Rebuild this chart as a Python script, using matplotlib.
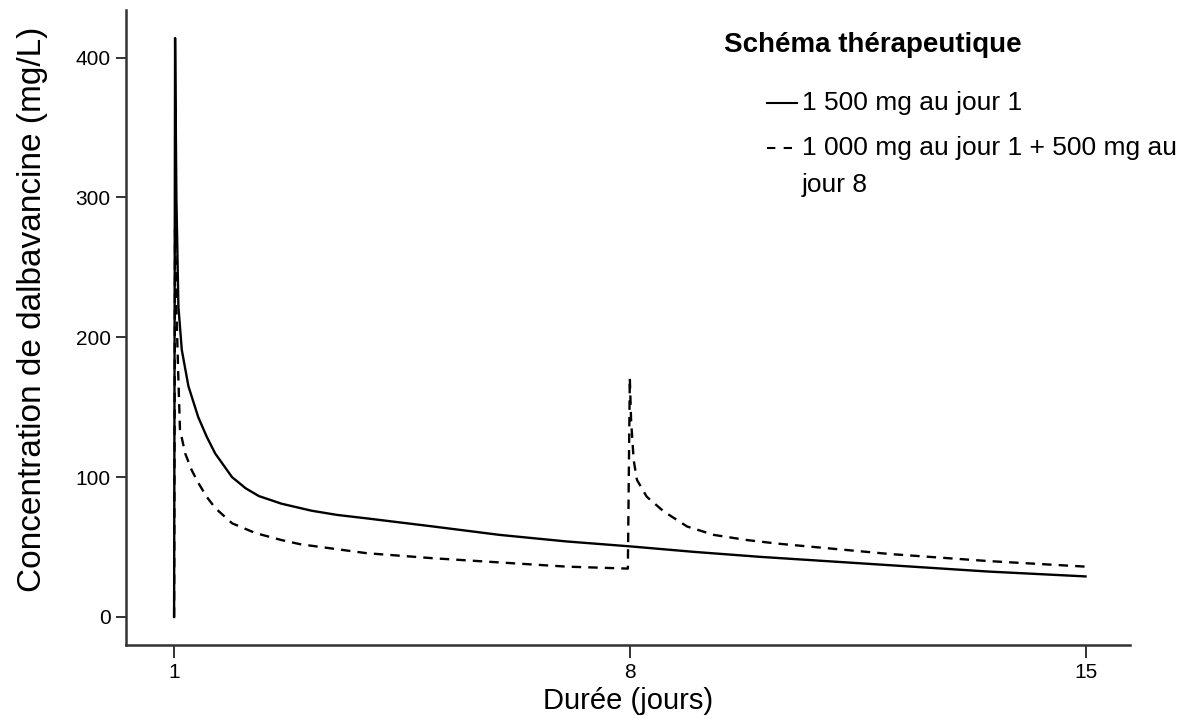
import matplotlib
matplotlib.use('Agg')
import matplotlib.pyplot as plt
from matplotlib.lines import Line2D

plt.rcParams['font.family'] = ['Liberation Sans', 'DejaVu Sans']

# 1 500 mg au jour 1
days_single = [1.0, 1.015, 1.035, 1.066, 1.118, 1.22, 1.37, 1.5, 1.63, 1.89, 2.1, 2.3,
               2.65, 3.11, 3.5, 3.96, 4.98, 6.0, 7.03, 8.0, 9.0, 10.0, 12.0, 13.5, 15.0]
conc_single = [0, 414, 300, 222, 191, 165, 143, 129, 117, 100, 92, 86.5,
               81, 76, 73, 70.5, 64.7, 58.7, 54, 50.5, 46.5, 43, 37, 32.5, 29]

# 1 000 mg au jour 1 + 500 mg au jour 8
days_split = [1.0, 1.015, 1.035, 1.066, 1.09, 1.17, 1.27, 1.37, 1.5, 1.63, 1.89, 2.25,
              2.65, 2.94, 3.96, 4.98, 6.0, 7.03, 7.97, 8.0, 8.02, 8.06, 8.11, 8.26,
              8.52, 8.88, 9.29, 9.8, 10.26, 12.0, 13.5, 15.0]
conc_split = [0, 277, 220, 170, 134, 117, 105, 96, 86, 78, 67, 60,
              55, 52, 45.6, 42, 39, 36, 34.6, 171, 140, 112, 98, 86,
              75.5, 64.7, 58.7, 55, 52.5, 45, 40, 36]

xticks = [1, 8, 15]
yticks = [0, 100, 200, 300, 400]

fig = plt.figure(figsize=(11.88, 7.19), dpi=100)
ax = fig.add_axes([0.106, 0.103, 0.845, 0.883])

ax.plot(days_single, conc_single, color='black', lw=1.7, linestyle='-')
ax.plot(days_split, conc_split, color='black', lw=1.7, linestyle=(0, (4, 3)))

ax.set_xlim(0.26, 15.68)
ax.set_ylim(-20, 434)
ax.set_xticks(xticks)
ax.set_yticks(yticks)
for s in ['top', 'right']:
    ax.spines[s].set_visible(False)
for s in ['left', 'bottom']:
    ax.spines[s].set_color('#333333')
    ax.spines[s].set_linewidth(1.8)
ax.tick_params(axis='both', direction='out', length=7, width=1.4, color='#333333',
               labelsize=15, pad=4)
ax.tick_params(axis='x', length=9)

ax.set_xlabel('Durée (jours)', fontsize=21)
ax.xaxis.set_label_coords(0.5, -0.066)
ax.set_ylabel('Concentration de dalbavancine (mg/L)', fontsize=24)
ax.yaxis.set_label_coords(-0.078, 0.528)

# legend
fig.text(724 / 1188, 1 - 45 / 719, 'Schéma thérapeutique', fontsize=20,
         fontweight='bold', va='center', ha='left')
fig.add_artist(Line2D([767 / 1188, 797 / 1188], [1 - 103 / 719] * 2,
                      color='black', lw=1.5))
fig.text(802 / 1188, 1 - 103 / 719, '1 500 mg au jour 1', fontsize=19,
         va='center', ha='left')
fig.add_artist(Line2D([767 / 1188, 797 / 1188], [1 - 148 / 719] * 2,
                      color='black', lw=1.5, linestyle=(0, (4, 4))))
fig.text(802 / 1188, 1 - 148 / 719, '1 000 mg au jour 1 + 500 mg au', fontsize=19,
         va='center', ha='left')
fig.text(802 / 1188, 1 - 185 / 719, 'jour 8', fontsize=19,
         va='center', ha='left')

fig.savefig('out.png', dpi=100)
